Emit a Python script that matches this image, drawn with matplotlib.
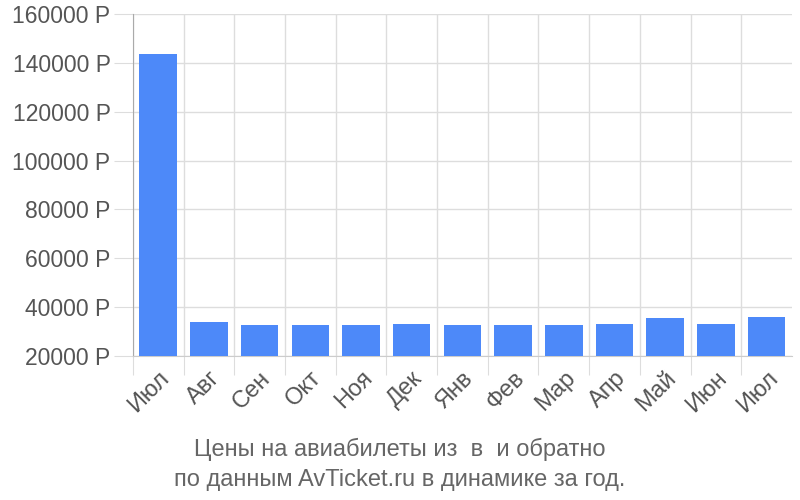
import numpy as np
import matplotlib
matplotlib.use('Agg')
import matplotlib.pyplot as plt

plt.rcParams['font.family'] = ['Liberation Sans', 'DejaVu Sans']

months = ['Июл', 'Авг', 'Сен', 'Окт', 'Ноя', 'Дек', 'Янв', 'Фев', 'Мар', 'Апр', 'Май', 'Июн', 'Июл']
prices = [143500, 34000, 32500, 32600, 32500, 33300, 32500, 32500, 32500, 33300, 35400, 33300, 36100]
yticks = [20000, 40000, 60000, 80000, 100000, 120000, 140000, 160000]
title = 'Цены на авиабилеты из  в  и обратно\nпо данным AvTicket.ru в динамике за год.'

fig = plt.figure(figsize=(8, 5), dpi=100)
ax = fig.add_axes([0.166, 0.288, 0.824, 0.684])

x = np.arange(len(months))
ax.bar(x, prices, width=0.74, color='#4d89f9', zorder=3)

ax.set_xlim(-0.5, len(months) - 0.5)
ax.set_ylim(20000, 160000)

ax.set_yticks(yticks)
ax.set_yticklabels([f'{v} Р' for v in yticks])
ax.set_xticks(x - 0.5)
ax.set_xticklabels([])
ax.set_xticks(x, minor=True)
ax.set_xticklabels(months, minor=True, rotation=45, ha='right', rotation_mode='anchor')

ax.tick_params(axis='y', length=14, color='#dddddd', labelsize=16.5, labelcolor='#555555', pad=2)
ax.tick_params(axis='x', which='major', length=14, color='#dddddd')
ax.tick_params(axis='x', which='minor', length=0, labelsize=17, labelcolor='#555555', pad=8)

ax.grid(True, which='major', color='#dddddd', linewidth=1, zorder=0)
for s in ['top', 'right']:
    ax.spines[s].set_visible(False)
ax.spines['left'].set_color('#aaaaaa')
ax.spines['bottom'].set_color('#cccccc')

fig.text(0.5, 0.018, title, ha='center', va='bottom', fontsize=17, color='#666666', linespacing=1.45)

fig.savefig('out.png', dpi=100)
